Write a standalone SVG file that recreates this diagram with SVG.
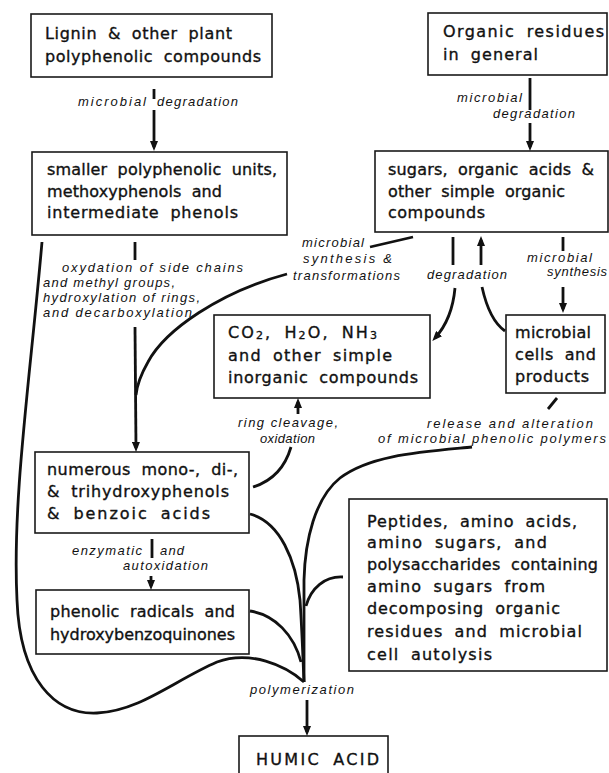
<svg xmlns="http://www.w3.org/2000/svg" width="609" height="773" viewBox="0 0 609 773">
<style>
.box{fill:none;stroke:#1a1a1a;stroke-width:1.6}
.t{font-family:"DejaVu Sans","Liberation Sans",sans-serif;font-size:16px;fill:#111;stroke:#111;stroke-width:0.35;word-spacing:5px}
.l{font-family:"Liberation Sans","DejaVu Sans",sans-serif;font-size:13px;font-style:italic;fill:#111}
.c{fill:none;stroke:#111;stroke-width:2.8;stroke-linecap:butt}
.a{marker-end:url(#ah)}
.sub{font-size:11px}
</style>
<defs>
<marker id="ah" viewBox="0 0 10 8" refX="6" refY="4" markerWidth="10" markerHeight="8" markerUnits="userSpaceOnUse" orient="auto"><path d="M0,0 L10,4 L0,8 z" fill="#111"/></marker>
</defs>
<rect width="609" height="773" fill="#fff"/>

<g id="n-lignin">
<rect class="box" x="31" y="14" width="241" height="63"/>
<text class="t" x="45" y="39" textLength="187" lengthAdjust="spacing">Lignin &amp; other plant</text>
<text class="t" x="45" y="62" textLength="216" lengthAdjust="spacing">polyphenolic compounds</text>
</g>
<g id="n-organic">
<rect class="box" x="428" y="13" width="179" height="62"/>
<text class="t" x="443" y="37" textLength="161" lengthAdjust="spacing">Organic residues</text>
<text class="t" x="443" y="60" textLength="95" lengthAdjust="spacing">in general</text>
</g>
<g id="n-smaller">
<rect class="box" x="32" y="152" width="255" height="83"/>
<text class="t" x="47" y="175" textLength="230" lengthAdjust="spacing">smaller polyphenolic units,</text>
<text class="t" x="47" y="197" textLength="175" lengthAdjust="spacing">methoxyphenols and</text>
<text class="t" x="47" y="218" textLength="191" lengthAdjust="spacing">intermediate phenols</text>
</g>
<g id="n-sugars">
<rect class="box" x="375" y="151" width="233" height="81"/>
<text class="t" x="388" y="175" textLength="206" lengthAdjust="spacing">sugars, organic acids &amp;</text>
<text class="t" x="388" y="197" textLength="177" lengthAdjust="spacing">other simple organic</text>
<text class="t" x="388" y="218" textLength="97" lengthAdjust="spacing">compounds</text>
</g>
<g id="n-co2">
<rect class="box" x="214" y="315" width="216" height="83"/>
<text class="t" x="228" y="338" textLength="149" lengthAdjust="spacing">CO<tspan class="sub" dy="1">2</tspan><tspan dy="-1">, H</tspan><tspan class="sub" dy="1">2</tspan><tspan dy="-1">O, NH</tspan><tspan class="sub" dy="1">3</tspan></text>
<text class="t" x="228" y="361" textLength="164" lengthAdjust="spacing">and other simple</text>
<text class="t" x="228" y="383" textLength="190" lengthAdjust="spacing">inorganic compounds</text>
</g>
<g id="n-microbial">
<rect class="box" x="506" y="315" width="99" height="78"/>
<text class="t" x="515" y="338" textLength="76" lengthAdjust="spacing">microbial</text>
<text class="t" x="515" y="360" textLength="81" lengthAdjust="spacing">cells and</text>
<text class="t" x="515" y="382" textLength="74" lengthAdjust="spacing">products</text>
</g>
<g id="n-numerous">
<rect class="box" x="35" y="452" width="214" height="81"/>
<text class="t" x="47" y="475" textLength="191" lengthAdjust="spacing">numerous mono-, di-,</text>
<text class="t" x="47" y="497" textLength="182" lengthAdjust="spacing">&amp; trihydroxyphenols</text>
<text class="t" x="47" y="519" textLength="163" lengthAdjust="spacing">&amp; benzoic acids</text>
</g>
<g id="n-phenolic">
<rect class="box" x="36" y="590" width="213" height="64"/>
<text class="t" x="50" y="617" textLength="185" lengthAdjust="spacing">phenolic radicals and</text>
<text class="t" x="50" y="640" textLength="185" lengthAdjust="spacing">hydroxybenzoquinones</text>
</g>
<g id="n-peptides">
<rect class="box" x="349" y="499" width="258" height="172"/>
<text class="t" x="367" y="527" textLength="210" lengthAdjust="spacing">Peptides, amino acids,</text>
<text class="t" x="367" y="548" textLength="180" lengthAdjust="spacing">amino sugars, and</text>
<text class="t" x="367" y="570" textLength="231" lengthAdjust="spacing">polysaccharides containing</text>
<text class="t" x="367" y="592" textLength="178" lengthAdjust="spacing">amino sugars from</text>
<text class="t" x="367" y="614" textLength="193" lengthAdjust="spacing">decomposing organic</text>
<text class="t" x="367" y="637" textLength="215" lengthAdjust="spacing">residues and microbial</text>
<text class="t" x="367" y="660" textLength="125" lengthAdjust="spacing">cell autolysis</text>
</g>
<g id="n-humic">
<rect class="box" x="239" y="736" width="149" height="60"/>
<text class="t" x="256" y="765" textLength="123" lengthAdjust="spacing">HUMIC ACID</text>
</g>

<g id="connectors">
<path class="c" d="M154,89 L154,99"/>
<path class="c a" d="M154,110 L154,147"/>
<path class="c" d="M530,78 L530,110"/>
<path class="c a" d="M530,123 L530,147"/>
<path class="c" d="M135,242 L135,260"/>
<path class="c a" d="M135,327 L136,448"/>
<path class="c" d="M287,274 C220,292 165,330 148,362 C140,376 137,385 136,395"/>
<path class="c" d="M370,247 L413,237"/>
<path class="c" d="M453,237 L453,265"/>
<path class="c a" d="M481,265 L481,240"/>
<path class="c a" d="M455,288 C453,310 446,326 435,338"/>
<path class="c" d="M482,287 C486,305 492,322 505,331"/>
<path class="c" d="M563,237 L563,251"/>
<path class="c a" d="M563,287 L563,309"/>
<path class="c a" d="M298,414 L298,402"/>
<path class="c" d="M253,487 Q282,478 291,447"/>
<path class="c" d="M548,409 L557,398"/>
<path class="c" d="M472,447 C420,452 370,455 340,478 C315,498 305,540 304,580 L304,682"/>
<path class="c" d="M250,514 C280,522 296,560 300,600 C302,630 303,660 304,682"/>
<path class="c" d="M343,577 C325,576 311,588 306,606"/>
<path class="c" d="M250,611 C275,615 294,635 301,662"/>
<path class="c" d="M42,242 C30,380 12,500 17,600 C20,680 55,715 97,713 C140,711 175,680 217,662 C250,650 285,665 304,682"/>
<path class="c" d="M152,539 L152,558"/>
<path class="c a" d="M151,576 L151,586"/>
<path class="c a" d="M307,700 L307,732"/>

<text class="l" x="78" y="106" textLength="68" lengthAdjust="spacing">microbial</text>
<text class="l" x="157" y="106" textLength="81" lengthAdjust="spacing">degradation</text>
<text class="l" x="457" y="102" textLength="65" lengthAdjust="spacing">microbial</text>
<text class="l" x="493" y="118" textLength="82" lengthAdjust="spacing">degradation</text>
<text class="l" x="62" y="272" textLength="181" lengthAdjust="spacing">oxydation of side chains</text>
<text class="l" x="43" y="287" textLength="132" lengthAdjust="spacing">and methyl groups,</text>
<text class="l" x="43" y="302" textLength="157" lengthAdjust="spacing">hydroxylation of rings,</text>
<text class="l" x="43" y="317" textLength="149" lengthAdjust="spacing">and decarboxylation</text>
<text class="l" x="302" y="247" textLength="62" lengthAdjust="spacing">microbial</text>
<text class="l" x="303" y="263" textLength="89" lengthAdjust="spacing">synthesis &amp;</text>
<text class="l" x="293" y="280" textLength="107" lengthAdjust="spacing">transformations</text>
<text class="l" x="427" y="279" textLength="80" lengthAdjust="spacing">degradation</text>
<text class="l" x="527" y="262" textLength="65" lengthAdjust="spacing">microbial</text>
<text class="l" x="547" y="276" textLength="60" lengthAdjust="spacing">synthesis</text>
<text class="l" x="238" y="427" textLength="100" lengthAdjust="spacing">ring cleavage,</text>
<text class="l" x="260" y="443" textLength="55" lengthAdjust="spacing">oxidation</text>
<text class="l" x="427" y="428" textLength="166" lengthAdjust="spacing">release and alteration</text>
<text class="l" x="378" y="443" textLength="228" lengthAdjust="spacing">of microbial phenolic polymers</text>
<text class="l" x="72" y="555" textLength="70" lengthAdjust="spacing">enzymatic</text>
<text class="l" x="160" y="555" textLength="24" lengthAdjust="spacing">and</text>
<text class="l" x="123" y="570" textLength="85" lengthAdjust="spacing">autoxidation</text>
<text class="l" x="250" y="694" textLength="104" lengthAdjust="spacing">polymerization</text>
</g>
</svg>
